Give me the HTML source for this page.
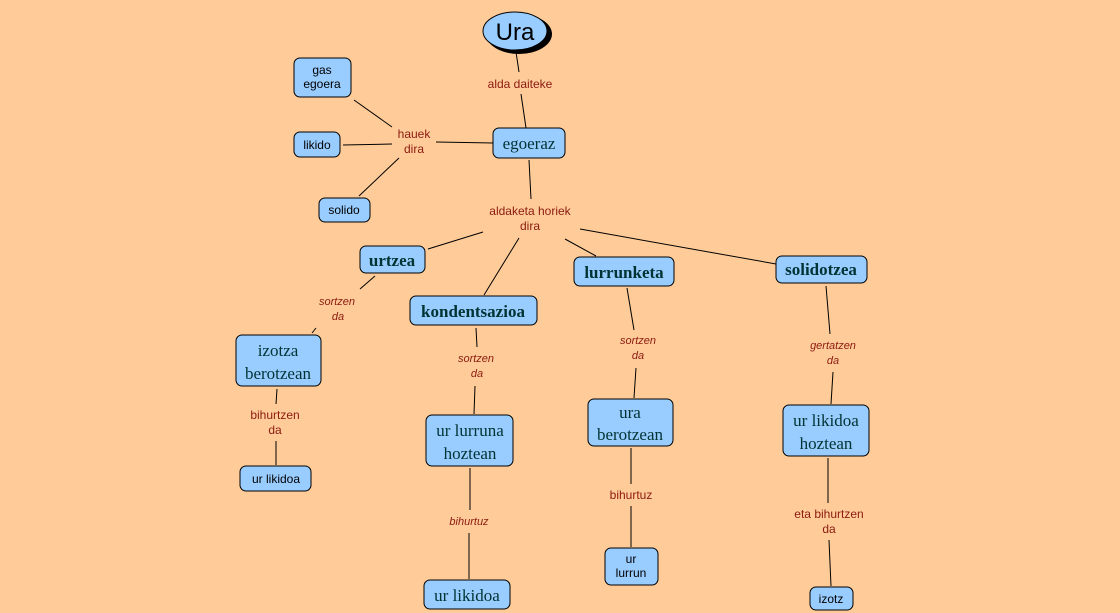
<!DOCTYPE html>
<html><head><style>
html,body{margin:0;padding:0;background:#ffcc99;}
svg{display:block}
.s{font-family:"Liberation Sans",sans-serif;font-size:12px;fill:#000;text-anchor:middle}
.r{font-family:"Liberation Serif",serif;font-size:17px;fill:#033;text-anchor:middle}
.b{font-family:"Liberation Serif",serif;font-size:17px;font-weight:bold;fill:#033;text-anchor:middle}
.l{font-family:"Liberation Sans",sans-serif;font-size:12px;fill:#8b1a10;text-anchor:middle}
.i{font-style:italic;font-size:11px}
rect{fill:#99ccff;stroke:#000;stroke-width:1}
line{stroke:#000;stroke-width:1}
</style></head><body>
<svg width="1120" height="613" viewBox="0 0 1120 613">
<rect x="0" y="0" width="1120" height="613" style="fill:#ffcc99;stroke:none"/>
<g>
<line x1="516" y1="52" x2="519" y2="72"/><line x1="521" y1="94" x2="526" y2="128"/>
<line x1="529" y1="160" x2="531" y2="199"/>
<line x1="354" y1="100" x2="392" y2="127"/><line x1="343" y1="145" x2="392" y2="144"/>
<line x1="359" y1="196" x2="399" y2="158"/><line x1="436" y1="142" x2="493" y2="143"/>
<line x1="483" y1="232" x2="428" y2="249"/><line x1="519" y1="238" x2="484" y2="295"/>
<line x1="565" y1="239" x2="596" y2="256"/><line x1="580" y1="229" x2="776" y2="264"/>
<line x1="375" y1="276" x2="360" y2="289"/><line x1="316" y1="328" x2="312" y2="333"/>
<line x1="476" y1="328" x2="477" y2="347"/><line x1="475" y1="386" x2="474" y2="414"/>
<line x1="627" y1="288" x2="634" y2="330"/><line x1="636" y1="368" x2="634" y2="398"/>
<line x1="826" y1="286" x2="830" y2="334"/><line x1="833" y1="372" x2="831" y2="404"/>
<line x1="277" y1="389" x2="276" y2="404"/><line x1="276" y1="441" x2="276" y2="465"/>
<line x1="470" y1="468" x2="470" y2="510"/><line x1="469" y1="533" x2="469" y2="579"/>
<line x1="631" y1="448" x2="631" y2="484"/><line x1="631" y1="506" x2="631" y2="547"/>
<line x1="828" y1="458" x2="828" y2="503"/><line x1="829" y1="540" x2="831" y2="586"/>
</g>
<ellipse cx="519" cy="34" rx="33" ry="20" fill="#000"/>
<ellipse cx="515" cy="31" rx="32" ry="19" fill="#99ccff" stroke="#000"/>
<text x="515" y="40" style="font-family:'Liberation Sans',sans-serif;font-size:24px;text-anchor:middle">Ura</text>

<rect x="493" y="128" width="72" height="30" rx="6"/><text class="r" x="529" y="149">egoeraz</text>
<rect x="294" y="58" width="57" height="39" rx="6"/><text class="s" x="322" y="74">gas</text><text class="s" x="322" y="88">egoera</text>
<rect x="294" y="132" width="46" height="25" rx="6"/><text class="s" x="317" y="149">likido</text>
<rect x="319" y="198" width="51" height="24" rx="6"/><text class="s" x="344" y="214">solido</text>
<rect x="360" y="246" width="65" height="27" rx="6"/><text class="b" x="392" y="266">urtzea</text>
<rect x="410" y="296" width="127" height="29" rx="6"/><text class="b" x="473" y="317">kondentsazioa</text>
<rect x="574" y="257" width="100" height="29" rx="6"/><text class="b" x="624" y="278">lurrunketa</text>
<rect x="776" y="256" width="91" height="27" rx="6"/><text class="b" x="821" y="275">solidotzea</text>
<rect x="236" y="335" width="85" height="51" rx="6"/><text class="r" x="278" y="356">izotza</text><text class="r" x="278" y="379">berotzean</text>
<rect x="426" y="415" width="87" height="51" rx="6"/><text class="r" x="470" y="436">ur lurruna</text><text class="r" x="470" y="459">hoztean</text>
<rect x="588" y="399" width="85" height="47" rx="6"/><text class="r" x="630" y="418">ura</text><text class="r" x="630" y="440">berotzean</text>
<rect x="783" y="405" width="86" height="51" rx="6"/><text class="r" x="826" y="426">ur likidoa</text><text class="r" x="826" y="449">hoztean</text>
<rect x="240" y="466" width="71" height="25" rx="6"/><text class="s" x="276" y="483">ur likidoa</text>
<rect x="424" y="580" width="86" height="29" rx="6"/><text class="r" x="467" y="601">ur likidoa</text>
<rect x="605" y="548" width="53" height="37" rx="6"/><text class="s" x="631" y="563">ur</text><text class="s" x="631" y="577">lurrun</text>
<rect x="810" y="587" width="43" height="23" rx="6"/><text class="s" x="831" y="603">izotz</text>

<text class="l" x="520" y="88">alda daiteke</text>
<text class="l" x="414" y="138">hauek</text><text class="l" x="414" y="153">dira</text>
<text class="l" x="530" y="215">aldaketa horiek</text><text class="l" x="530" y="230">dira</text>
<text class="l i" x="337" y="305">sortzen</text><text class="l i" x="338" y="320">da</text>
<text class="l i" x="476" y="362">sortzen</text><text class="l i" x="477" y="377">da</text>
<text class="l i" x="638" y="344">sortzen</text><text class="l i" x="638" y="359">da</text>
<text class="l i" x="833" y="349">gertatzen</text><text class="l i" x="833" y="364">da</text>
<text class="l" x="275" y="419">bihurtzen</text><text class="l" x="275" y="434">da</text>
<text class="l i" x="469" y="525">bihurtuz</text>
<text class="l" x="631" y="499">bihurtuz</text>
<text class="l" x="829" y="518">eta bihurtzen</text><text class="l" x="829" y="533">da</text>
</svg>
</body></html>
